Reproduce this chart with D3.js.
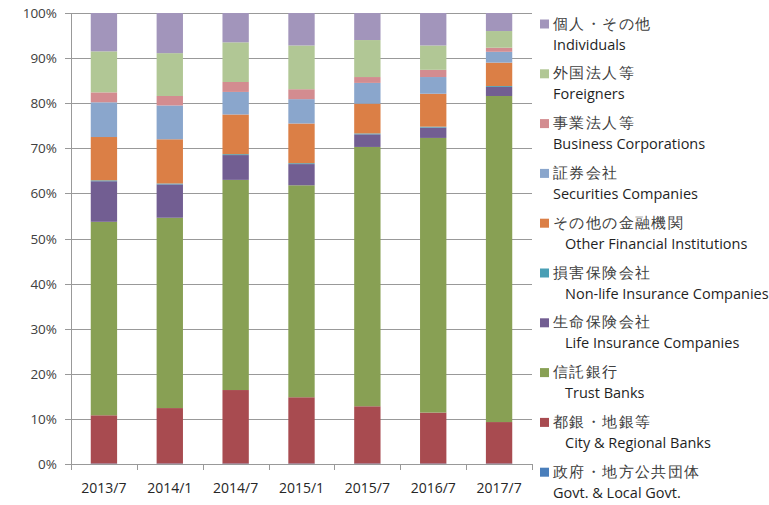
<!DOCTYPE html>
<html>
<head>
<meta charset="utf-8">
<script src="https://cdn.jsdelivr.net/npm/d3@7"></script>
<style>
  body { margin: 0; background: #fff; }
  text { font-family: "Open Sans", "Noto Sans", sans-serif; }
</style>
</head>
<body>
<div id="chart"></div>
<script>
// categories along the x axis
const categories = ["2013/7", "2014/1", "2014/7", "2015/1", "2015/7", "2016/7", "2017/7"];

// shares (%) per holder type, bottom of the stack first
const govt        = [0.1, 0.1, 0.1, 0.1, 0.1, 0.1, 0.1];
const cityBanks   = [10.7, 12.3, 16.3, 14.7, 12.7, 11.3, 9.2];
const trustBanks  = [42.9, 42.2, 46.6, 47.0, 57.5, 60.9, 72.3];
const lifeIns     = [9.0, 7.4, 5.5, 4.7, 2.8, 2.3, 2.0];
const nonLifeIns  = [0.2, 0.2, 0.2, 0.2, 0.2, 0.2, 0.2];
const otherFin    = [9.6, 9.8, 8.8, 8.8, 6.6, 7.3, 5.2];
const securities  = [7.7, 7.5, 5.0, 5.4, 4.6, 3.7, 2.4];
const business    = [2.2, 2.1, 2.2, 2.2, 1.3, 1.6, 0.9];
const foreigners  = [9.1, 9.5, 8.8, 9.7, 8.2, 5.4, 3.7];
const individuals = [8.5, 8.9, 6.5, 7.2, 6.0, 7.2, 4.0];

// series names (Japanese / English)
const keys = ["govt", "city", "trust", "life", "nonlife", "other", "sec", "biz", "foreign", "indiv"];
const namesJp = ["政府・地方公共団体", "都銀・地銀等", "信託銀行", "生命保険会社", "損害保険会社",
                 "その他の金融機関", "証券会社", "事業法人等", "外国法人等", "個人・その他"];
const namesEn = ["Govt. & Local Govt.", "City & Regional Banks", "Trust Banks", "Life Insurance Companies",
                 "Non-life Insurance Companies", "Other Financial Institutions", "Securities Companies",
                 "Business Corporations", "Foreigners", "Individuals"];

// y axis ticks
const yTicks = [0, 10, 20, 30, 40, 50, 60, 70, 80, 90, 100];

// styling
const colors = ["#4a7ebb", "#a84b50", "#88a054", "#725e92", "#4a9fb5",
                "#db7f46", "#8aa6cc", "#d38c90", "#b1c795", "#a295bb"];
const indentEn = [false, true, true, true, true, true, false, false, false, false];

const width = 769;
const height = 505;
const plot = {left: 71, right: 532, top: 13, bottom: 464};

const svg = d3.select("#chart").append("svg")
  .attr("width", width)
  .attr("height", height);

// build table for the stack
const table = categories.map((c, i) => ({
  cat: c,
  govt: govt[i], city: cityBanks[i], trust: trustBanks[i], life: lifeIns[i],
  nonlife: nonLifeIns[i], other: otherFin[i], sec: securities[i], biz: business[i],
  foreign: foreigners[i], indiv: individuals[i]
}));
const stacked = d3.stack().keys(keys)(table);

// scales
const xScale = d3.scaleBand()
  .domain(categories)
  .range([plot.left, plot.right])
  .paddingInner(0.6)
  .paddingOuter(0.3);

const yScale = d3.scaleLinear()
  .domain([0, 100])
  .range([plot.bottom, plot.top]);

// gridlines + left ticks
svg.append("g")
  .selectAll("line")
  .data(yTicks)
  .join("line")
    .attr("x1", plot.left - 6)
    .attr("x2", plot.right)
    .attr("y1", d => Math.round(yScale(d)) + 0.5)
    .attr("y2", d => Math.round(yScale(d)) + 0.5)
    .attr("stroke", "#999")
    .attr("stroke-width", 1);

// y axis line
svg.append("line")
  .attr("x1", plot.left + 0.5).attr("x2", plot.left + 0.5)
  .attr("y1", plot.top).attr("y2", plot.bottom + 6)
  .attr("stroke", "#999");

// y tick labels
svg.append("g")
  .selectAll("text")
  .data(yTicks)
  .join("text")
    .attr("x", plot.left - 14)
    .attr("y", d => yScale(d) + 5)
    .attr("text-anchor", "end")
    .attr("font-size", "13.5px")
    .attr("fill", "#404040")
    .text(d => d + "%");

// x axis ticks at band boundaries
const boundaries = d3.range(categories.length + 1).map(i => plot.left + i * (plot.right - plot.left) / categories.length);
svg.append("g")
  .selectAll("line")
  .data(boundaries)
  .join("line")
    .attr("x1", d => Math.round(d) + 0.5)
    .attr("x2", d => Math.round(d) + 0.5)
    .attr("y1", plot.bottom)
    .attr("y2", plot.bottom + 6)
    .attr("stroke", "#999");

// x labels
svg.append("g")
  .selectAll("text")
  .data(categories)
  .join("text")
    .attr("x", d => xScale(d) + xScale.bandwidth() / 2)
    .attr("y", 493)
    .attr("text-anchor", "middle")
    .attr("font-size", "14px")
    .attr("fill", "#262626")
    .text(d => d);

// bars
svg.append("g")
  .selectAll("g")
  .data(stacked)
  .join("g")
    .attr("fill", (d, i) => colors[i])
  .selectAll("rect")
  .data(d => d)
  .join("rect")
    .attr("x", d => xScale(d.data.cat))
    .attr("y", d => yScale(d[1]))
    .attr("width", xScale.bandwidth())
    .attr("height", d => yScale(d[0]) - yScale(d[1]));

// legend, top entry is the last series
const legendOrder = d3.range(keys.length).reverse();
const legend = svg.append("g")
  .selectAll("g")
  .data(legendOrder)
  .join("g")
    .attr("transform", (d, i) => `translate(540, ${19.5 + i * 49.8})`);

legend.append("rect")
  .attr("width", 9)
  .attr("height", 9)
  .attr("fill", d => colors[d]);

legend.append("text")
  .attr("x", 13)
  .attr("y", 9)
  .attr("font-family", "'Noto Sans CJK JP', sans-serif")
  .attr("font-size", "15px")
  .attr("letter-spacing", "1.4px")
  .attr("fill", "#404040")
  .text(d => namesJp[d]);

legend.append("text")
  .attr("x", d => indentEn[d] ? 25 : 13)
  .attr("y", 30)
  .attr("font-size", "14.5px")
  .attr("fill", "#1f1f1f")
  .text(d => namesEn[d]);
</script>
</body>
</html>
